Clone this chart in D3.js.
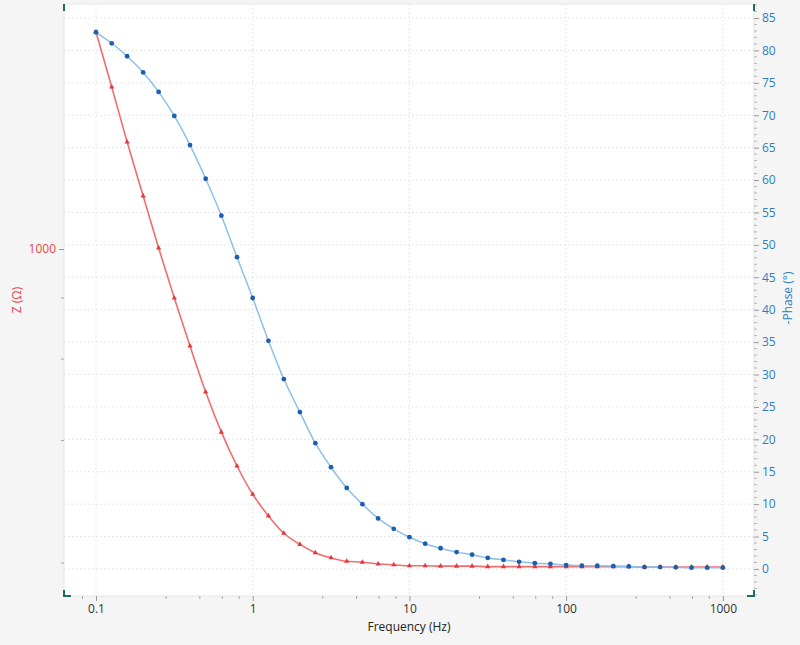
<!DOCTYPE html>
<html lang="en">
  <head>
    <meta charset="UTF-8" />
    <title>Bode Plot</title>
    <script src="https://cdn.jsdelivr.net/npm/d3@7"></script>
    <style>
      body { margin: 0; background: #f5f5f5; font-family: 'Open Sans', 'Noto Sans', sans-serif; }
      #container { width: 800px; height: 645px; }
    </style>
  </head>
  <body>
    <div id="container"></div>
    <script>
      // measured data (frequency sweep, 10 points per decade)
      const freq = [0.1, 0.126, 0.158, 0.2, 0.251, 0.316, 0.398, 0.501, 0.631, 0.794,
        1, 1.26, 1.58, 2, 2.51, 3.16, 3.98, 5.01, 6.31, 7.94,
        10, 12.6, 15.8, 20, 25.1, 31.6, 39.8, 50.1, 63.1, 79.4,
        100, 126, 158, 200, 251, 316, 398, 501, 631, 794, 1000]
      const impedance = [2410, 1929, 1543, 1240, 1004, 820, 675, 560, 476, 415,
        370, 339, 316, 302, 292, 286, 282, 281, 279, 278,
        277, 277, 276.5, 276.5, 276.5, 276, 276, 276, 276, 276,
        276, 276, 276, 276, 276, 275.5, 275.5, 275.5, 275.5, 275.5, 275.5]
      const phase = [82.8, 81.1, 79.1, 76.6, 73.6, 69.9, 65.4, 60.2, 54.5, 48.1,
        41.8, 35.2, 29.3, 24.2, 19.4, 15.7, 12.5, 10.0, 7.8, 6.2,
        4.9, 3.9, 3.2, 2.6, 2.2, 1.7, 1.4, 1.1, 0.9, 0.8,
        0.6, 0.5, 0.5, 0.45, 0.4, 0.3, 0.3, 0.25, 0.2, 0.2, 0.2]

      // ticks
      const xMajorTicks = [0.1, 1, 10, 100, 1000]
      const xMinorTicks = [0.082, 0.28, 0.46, 0.64, 0.82, 2.8, 4.6, 6.4, 8.2,
        28, 46, 64, 82, 280, 460, 640, 820]
      const zMajorTicks = [1000]
      const zMinorTicks = [280, 460, 640, 820]
      const phaseMajorTicks = d3.range(0, 86, 5)
      const phaseMinorTicks = d3.range(-4, 88, 1)

      const width = 800
      const height = 645
      const marginTop = 4
      const marginRight = 46
      const marginBottom = 49
      const marginLeft = 64

      const red = '#f26d6d'
      const redDark = '#e03a3f'
      const redText = '#e8474b'
      const blue = '#8cc0ea'
      const blueDark = '#1d5fab'
      const blueText = '#2f7dc0'

      const x = d3.scaleLog()
        .domain([0.0625, 1580])
        .range([marginLeft, width - marginRight])

      const yZ = d3.scaleLog()
        .domain([245, 2700])
        .range([height - marginBottom, marginTop])

      const yP = d3.scaleLinear()
        .domain([-4.17, 87.16])
        .range([height - marginBottom, marginTop])

      const svg = d3.create('svg')
        .attr('width', width)
        .attr('height', height)
        .attr('viewBox', [0, 0, width, height])
        .style('font-family', "'Open Sans', 'Noto Sans', sans-serif")

      const x0 = marginLeft, x1 = width - marginRight
      const y0 = height - marginBottom, y1 = marginTop

      // plot background
      svg.append('rect')
        .attr('x', x0).attr('y', y1)
        .attr('width', x1 - x0).attr('height', y0 - y1)
        .attr('fill', '#fff')
        .attr('stroke', '#e6e6e6')

      // grid
      const grid = svg.append('g')
        .attr('stroke', '#e0e0e0')
        .attr('stroke-dasharray', '1.5,2.5')
      grid.selectAll('.hg')
        .data(phaseMajorTicks)
        .join('line')
        .attr('x1', x0).attr('x2', x1)
        .attr('y1', d => yP(d)).attr('y2', d => yP(d))
      grid.selectAll('.vg')
        .data(xMajorTicks)
        .join('line')
        .attr('x1', d => x(d)).attr('x2', d => x(d))
        .attr('y1', y1).attr('y2', y0)

      // bottom axis
      const xAxis = svg.append('g')
        .attr('transform', `translate(0,${y0})`)
        .call(d3.axisBottom(x).tickValues(xMajorTicks).tickSize(5).tickFormat(d3.format('~g')))
      xAxis.select('.domain').remove()
      xAxis.selectAll('line').attr('stroke', '#999')
      xAxis.selectAll('text').attr('font-size', 12).attr('fill', '#333').attr('dy', '0.78em')
        .attr('font-family', "'Open Sans', 'Noto Sans', sans-serif")
      svg.append('g')
        .selectAll('line')
        .data(xMinorTicks)
        .join('line')
        .attr('x1', d => x(d)).attr('x2', d => x(d))
        .attr('y1', y0).attr('y2', y0 + 3)
        .attr('stroke', '#aaa')

      svg.append('text')
        .attr('x', (x0 + x1) / 2)
        .attr('y', 631)
        .attr('text-anchor', 'middle')
        .attr('font-size', 12)
        .attr('fill', '#222')
        .text('Frequency (Hz)')

      // left axis (impedance)
      const zAxis = svg.append('g')
        .attr('transform', `translate(${x0},0)`)
        .call(d3.axisLeft(yZ).tickValues(zMajorTicks).tickSize(5).tickFormat(d3.format('d')))
      zAxis.select('.domain').remove()
      zAxis.selectAll('line').attr('stroke', '#999')
      zAxis.selectAll('text').attr('font-size', 12).attr('fill', redText).attr('x', -8)
        .attr('font-family', "'Open Sans', 'Noto Sans', sans-serif")
      svg.append('g')
        .selectAll('line')
        .data(zMinorTicks)
        .join('line')
        .attr('x1', x0 - 3).attr('x2', x0)
        .attr('y1', d => yZ(d)).attr('y2', d => yZ(d))
        .attr('stroke', '#aaa')

      svg.append('text')
        .attr('transform', `translate(21,300) rotate(-90)`)
        .attr('text-anchor', 'middle')
        .attr('font-size', 12)
        .attr('fill', redText)
        .text('Z (Ω)')

      // right axis (phase)
      svg.append('g')
        .selectAll('line')
        .data(phaseMinorTicks.filter(d => d % 5 !== 0))
        .join('line')
        .attr('x1', x1).attr('x2', x1 + 3)
        .attr('y1', d => yP(d)).attr('y2', d => yP(d))
        .attr('stroke', '#b5b5b5')
      const pAxis = svg.append('g')
        .attr('transform', `translate(${x1},0)`)
        .call(d3.axisRight(yP).tickValues(phaseMajorTicks).tickSize(5))
      pAxis.select('.domain').remove()
      pAxis.selectAll('line').attr('stroke', '#999')
      pAxis.selectAll('text').attr('font-size', 12).attr('fill', blueText).attr('x', 8)
        .attr('font-family', "'Open Sans', 'Noto Sans', sans-serif")

      svg.append('text')
        .attr('transform', `translate(792,298) rotate(-90)`)
        .attr('text-anchor', 'middle')
        .attr('font-size', 12)
        .attr('fill', blueText)
        .text('-Phase (°)')

      // corner brackets
      const br = svg.append('g')
        .attr('stroke', '#1f6b5e')
        .attr('stroke-width', 2)
        .attr('fill', 'none')
      br.append('path').attr('d', `M${x0},${y1} v7`)
      br.append('path').attr('d', `M${x1},${y1} v7`)
      br.append('path').attr('d', `M${x0},${y0 - 6} V${y0} h7`)
      br.append('path').attr('d', `M${x1},${y0 - 6} V${y0} h-7`)

      const data = freq.map((f, i) => ({ f, z: impedance[i], p: phase[i] }))

      // impedance curve
      svg.append('path')
        .datum(data)
        .attr('fill', 'none')
        .attr('stroke', red)
        .attr('stroke-width', 1.6)
        .attr('d', d3.line().x(d => x(d.f)).y(d => yZ(d.z)).curve(d3.curveMonotoneX))
      svg.append('g')
        .attr('fill', redDark)
        .selectAll('path')
        .data(data)
        .join('path')
        .attr('transform', d => `translate(${x(d.f)},${yZ(d.z)})`)
        .attr('d', d3.symbol(d3.symbolTriangle, 12))

      // phase curve
      svg.append('path')
        .datum(data)
        .attr('fill', 'none')
        .attr('stroke', blue)
        .attr('stroke-width', 1.5)
        .attr('d', d3.line().x(d => x(d.f)).y(d => yP(d.p)).curve(d3.curveMonotoneX))
      svg.append('g')
        .attr('fill', blueDark)
        .selectAll('circle')
        .data(data)
        .join('circle')
        .attr('cx', d => x(d.f))
        .attr('cy', d => yP(d.p))
        .attr('r', 2.4)

      document.getElementById('container').append(svg.node())
    </script>
  </body>
</html>
